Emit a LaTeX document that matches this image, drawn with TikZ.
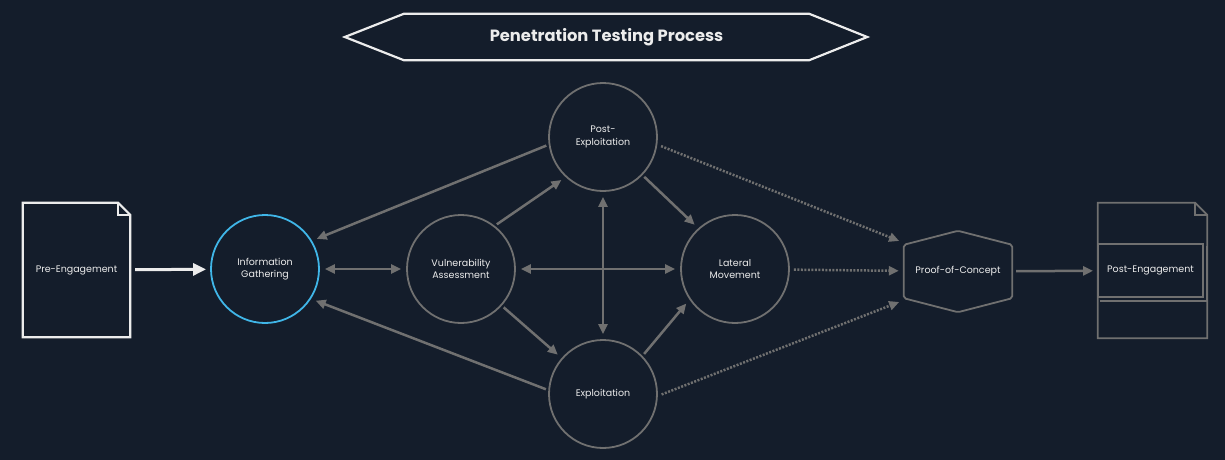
\documentclass[tikz,border=0pt]{standalone}
\usepackage{fontspec}
\setmainfont{Poppins}
\usetikzlibrary{arrows.meta}

\definecolor{bg}{RGB}{20,29,43}
\definecolor{edge}{RGB}{112,112,112}
\definecolor{htbblue}{RGB}{64,182,232}
\definecolor{txt}{RGB}{236,236,236}

\begin{document}
\begin{tikzpicture}[x=1pt,y=-1pt,>={Triangle[length=10pt,width=9pt]},
  every node/.style={font=\fontsize{9.5}{12.5}\selectfont,text=txt,align=center},
  phase/.style={circle,draw=edge,line width=1.8pt,minimum size=108pt,inner sep=0pt},
  link/.style={draw=edge,line width=2.5pt,->,shorten >=5pt,shorten <=2.5pt},
  both/.style={link,<->,shorten <=5pt},
  dots/.style={link,dash pattern=on 2pt off 1.5pt,shorten <=4pt}]
\fill[bg] (0,0) rectangle (1225,460);

% title banner
\node[font=\fontseries{sb}\selectfont\fontsize{16.3}{20}\selectfont,minimum width=405pt,minimum height=46pt] (title) at (606.5,37) {Penetration Testing Process};
\draw[txt,line width=2.2pt] ([xshift=-59pt]title.west) -- (title.north west) -- (title.north east)
  -- ([xshift=58pt]title.east) -- (title.south east) -- (title.south west) -- cycle;

% documents
\node[minimum width=107pt,minimum height=134pt,inner sep=0pt] (preeng) at (76.5,270) {Pre-Engagement};
\draw[txt,line width=2.2pt] (preeng.south west) -- (preeng.north west) -- ([xshift=-12pt]preeng.north east)
  -- ([yshift=-12pt]preeng.north east) -- (preeng.south east) -- cycle;
\draw[txt,line width=1.5pt] ([xshift=-12pt]preeng.north east) |- ([yshift=-12pt]preeng.north east);

\node[minimum width=109pt,minimum height=135pt,inner sep=0pt] (postdoc) at (1152.5,270.5) {};
\draw[edge,line width=1.8pt] (postdoc.south west) -- (postdoc.north west) -- ([xshift=-12pt]postdoc.north east)
  -- ([yshift=-12pt]postdoc.north east) -- (postdoc.south east) -- cycle;
\draw[edge,line width=1.5pt] ([xshift=-12pt]postdoc.north east) |- ([yshift=-12pt]postdoc.north east);
\node[draw=edge,line width=1.8pt,fill=bg,minimum width=105pt,minimum height=53pt] (posteng) at (1150.5,270.5) {Post-Engagement};
\draw[edge,line width=1.5pt] ([shift={(3pt,-3pt)}]posteng.north east) |- ([shift={(3pt,-3pt)}]posteng.south west);

% phases
\node[phase,draw=htbblue] (infogath) at (265,269) {Information\\Gathering};
\node[phase] (vulnassess) at (461,269) {Vulnerability\\Assessment};
\node[phase] (postexploit) at (603,137) {Post-\\Exploitation};
\node[phase] (exploit) at (603,394) {Exploitation};
\node[phase] (latmove) at (735,269) {Lateral\\Movement};

\node[minimum width=108pt,minimum height=81pt,inner sep=0pt] (poc) at (958,271.5) {Proof-of-Concept};
\draw[edge,line width=1.8pt,rounded corners=2pt] (poc.north) -- ([yshift=-14pt]poc.north east) -- ([yshift=14pt]poc.south east)
  -- (poc.south) -- ([yshift=14pt]poc.south west) -- ([yshift=-14pt]poc.north west) -- cycle;

% connectors
\draw[->,draw=txt,line width=3pt,>={Triangle[length=13pt,width=12pt]},shorten <=5pt,shorten >=4pt] (preeng) -- (infogath);
\draw[link] (postexploit.188) -- (infogath.31);
\draw[link] (exploit.176) -- (infogath.327);
\draw[both] (infogath) -- (vulnassess);
\draw[link] (vulnassess.52) -- (postexploit.227);
\draw[link] (vulnassess.318) -- (exploit.139);
\draw[both] (vulnassess) -- (latmove);
\draw[both] (postexploit) -- (exploit);
\draw[link] (postexploit.316) -- (latmove.132);
\draw[link] (exploit.44) -- (latmove.214);
\draw[dots] (postexploit.352) -- ([yshift=-12pt]poc.north west);
\draw[dots] (latmove) -- (poc);
\draw[dots] (exploit.358) -- ([yshift=12pt]poc.south west);
\draw[link,shorten <=4pt,shorten >=4pt] (poc) -- (posteng);
\end{tikzpicture}
\end{document}
